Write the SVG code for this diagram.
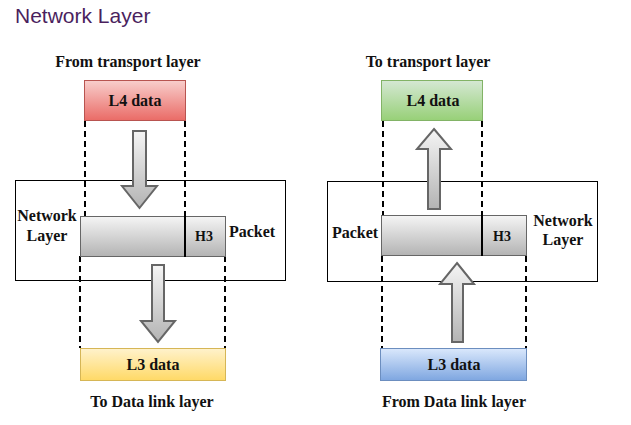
<svg xmlns="http://www.w3.org/2000/svg" width="631" height="425" viewBox="0 0 631 425">
<defs>
<linearGradient id="gRed" x1="0" y1="0" x2="0" y2="1"><stop offset="0" stop-color="#f8cecc"/><stop offset="1" stop-color="#ea6b66"/></linearGradient>
<linearGradient id="gGreen" x1="0" y1="0" x2="0" y2="1"><stop offset="0" stop-color="#d5e8d4"/><stop offset="1" stop-color="#97d077"/></linearGradient>
<linearGradient id="gYellow" x1="0" y1="0" x2="0" y2="1"><stop offset="0" stop-color="#fff2cc"/><stop offset="1" stop-color="#ffd966"/></linearGradient>
<linearGradient id="gBlue" x1="0" y1="0" x2="0" y2="1"><stop offset="0" stop-color="#dae8fc"/><stop offset="1" stop-color="#7ea6e0"/></linearGradient>
<linearGradient id="gGray" x1="0" y1="0" x2="0" y2="1"><stop offset="0" stop-color="#f5f5f5"/><stop offset="1" stop-color="#b3b3b3"/></linearGradient>
</defs>
<style>
.t{font-family:"Liberation Serif","Times New Roman",serif;font-weight:bold;font-size:16px;fill:#111;text-anchor:middle}
.s{font-size:14px}
.dash{stroke:#000;stroke-width:2;stroke-dasharray:6 4;fill:none}
.frame{fill:none;stroke:#000;stroke-width:1}
.arrow{fill:url(#gGray);stroke:#666;stroke-width:2}
.pkt{fill:url(#gGray);stroke:#666;stroke-width:1}
</style>
<text x="15" y="23" style="font-family:'Liberation Sans',Arial,sans-serif;font-size:21px;fill:#4b1f5e">Network Layer</text>

<g id="connectors">
<line class="dash" x1="85" y1="121" x2="85" y2="216"/>
<line class="dash" x1="185" y1="121" x2="185" y2="216"/>
<line class="dash" x1="80" y1="256" x2="80" y2="348"/>
<line class="dash" x1="225" y1="256" x2="225" y2="348"/>
<line class="dash" x1="383" y1="121" x2="383" y2="216"/>
<line class="dash" x1="482" y1="121" x2="482" y2="216"/>
<line class="dash" x1="382" y1="256" x2="382" y2="348"/>
<line class="dash" x1="526" y1="256" x2="526" y2="348"/>
</g>

<g id="left-frame"><rect class="frame" x="15.5" y="180.5" width="270" height="100"/></g>
<g id="right-frame"><rect class="frame" x="327.5" y="181.5" width="270" height="100"/></g>

<g id="left-top-label"><text class="t" x="128" y="67">From transport layer</text></g>
<g id="left-l4"><rect x="84.5" y="80.5" width="101" height="40" fill="url(#gRed)" stroke="#b85450"/><text class="t" x="135" y="106">L4 data</text></g>
<g id="left-arrow-down1"><polygon class="arrow" points="133,131 146,131 146,186 157,186 139.5,208 122,186 133,186"/></g>
<g id="left-packet"><rect class="pkt" x="80.5" y="216.5" width="145" height="40"/><line x1="185" y1="216" x2="185" y2="257" stroke="#000" stroke-width="2"/><text class="t s" x="204" y="241">H3</text></g>
<g id="left-network-label"><text class="t" x="47" y="221">Network</text><text class="t" x="47" y="241">Layer</text></g>
<g id="left-packet-label"><text class="t" x="252" y="237">Packet</text></g>
<g id="left-arrow-down2"><polygon class="arrow" points="152,265 164,265 164,321 175,321 158,342 141,321 152,321"/></g>
<g id="left-l3"><rect x="80.5" y="348.5" width="145" height="32" fill="url(#gYellow)" stroke="#d6b656"/><text class="t" x="153" y="370">L3 data</text></g>
<g id="left-bottom-label"><text class="t" x="152" y="407">To Data link layer</text></g>

<g id="right-top-label"><text class="t" x="428" y="67">To transport layer</text></g>
<g id="right-l4"><rect x="381.5" y="80.5" width="101" height="40" fill="url(#gGreen)" stroke="#82b366"/><text class="t" x="433" y="106">L4 data</text></g>
<g id="right-arrow-up1"><polygon class="arrow" points="434,129 451,149 440,149 440,209 428,209 428,149 417,149"/></g>
<g id="right-packet"><rect class="pkt" x="381.5" y="215.5" width="145" height="40"/><line x1="482" y1="215" x2="482" y2="256" stroke="#000" stroke-width="2"/><text class="t s" x="502" y="241">H3</text></g>
<g id="right-packet-label"><text class="t" x="355" y="238">Packet</text></g>
<g id="right-network-label"><text class="t" x="563" y="226">Network</text><text class="t" x="563" y="245">Layer</text></g>
<g id="right-arrow-up2"><polygon class="arrow" points="457,263 474,284 463,284 463,342 452,342 452,284 440,284"/></g>
<g id="right-l3"><rect x="380.5" y="348.5" width="146" height="32" fill="url(#gBlue)" stroke="#6c8ebf"/><text class="t" x="454" y="370">L3 data</text></g>
<g id="right-bottom-label"><text class="t" x="454" y="407">From Data link layer</text></g>
</svg>
